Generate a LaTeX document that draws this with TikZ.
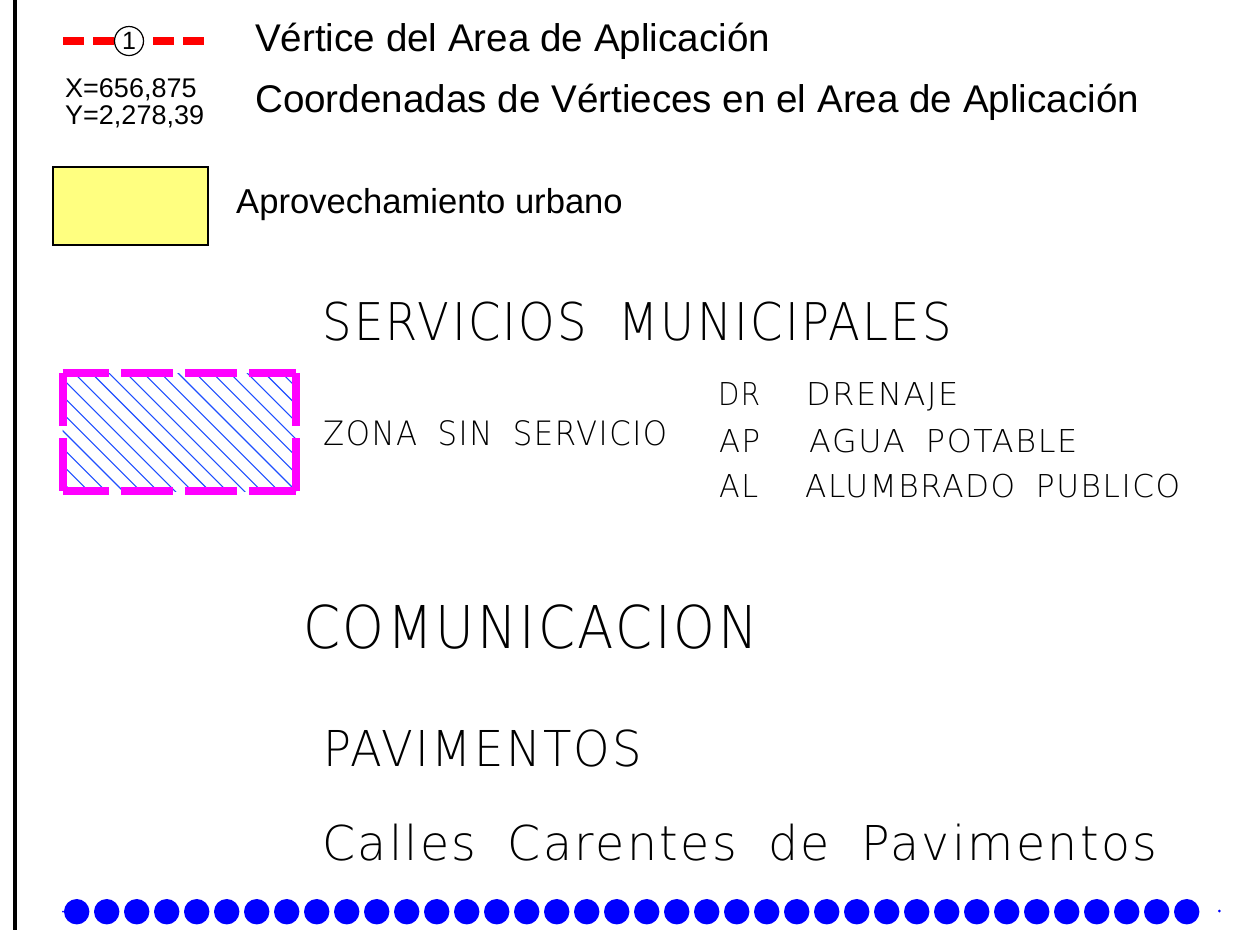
\documentclass[tikz,border=0pt]{standalone}
\usepackage{fontspec}
\usepackage{graphicx}
\setmainfont{Liberation Sans}
\newfontfamily\cad[LetterSpace=5,WordSpace=1.8]{DejaVu Sans ExtraLight}
\newcommand\fitto[2]{\resizebox{#1pt}{\height}{#2}}
\definecolor{cadred}{HTML}{FF0000}
\definecolor{cadmag}{HTML}{FF00FF}
\definecolor{cadblue}{HTML}{0000FF}
\definecolor{hatchblue}{HTML}{1F4FFF}
\definecolor{lightyellow}{HTML}{FFFF80}
\tikzset{
  arial/.style={inner sep=0pt, anchor=base west, font=\fontsize{#1}{#1}\selectfont},
  cadtext/.style={inner sep=0pt, anchor=base west, font=\cad\fontsize{#1}{#1}\selectfont},
  magseg/.style={draw=cadmag, line width=8pt, line cap=butt},
  dot/.style={circle, fill=cadblue, draw=none, minimum size=25.4pt, inner sep=0pt}
}
\begin{document}
\begin{tikzpicture}[x=1pt,y=-1pt]
\useasboundingbox (0,0) rectangle (1238,930);
\fill[white] (0,0) rectangle (1238,930);
% left border line
\coordinate (bt) at (15,0);
\coordinate (bb) at (15,930);
\draw[line width=3.5pt] (bt) -- (bb);

% vertex legend
\coordinate (rl) at (63,41);
\coordinate (rr) at (205,41);
\draw[cadred, line width=8pt, dash pattern=on 21pt off 9pt] (rl) -- (rr);
\node[circle, draw=black, fill=white, line width=1.2pt, minimum size=29pt, inner sep=0pt,
      font=\fontsize{25}{25}\selectfont] (v1) at (129,41) {1};
\node[arial=38.6] (t1) at (255,51) {Vértice del Area de Aplicación};
\node[arial=27] (cx) at (65,97) {X=656,875};
\node[arial=27] (cy) at (65,124) {Y=2,278,39};
\node[arial=38.6] (t2) at (255,112) {Coordenadas de Vértieces en el Area de Aplicación};

% yellow legend
\node[draw=black, line width=1.5pt, fill=lightyellow, minimum width=155pt, minimum height=78pt,
      inner sep=0pt, anchor=north west] (yb) at (52,166) {};
\node[arial=34.6] (t3) at (236,213) {Aprovechamiento urbano};

% services
\node[cadtext=52] (sm) at (322,340) {\fitto{630}{SERVICIOS MUNICIPALES}};

% hatched box
\begin{scope}
  \clip (62.5,373) rectangle (296,491);
  \foreach \k in {-3,...,17} {
    \pgfmathsetmacro\c{-368+17.3*\k}
    \draw[hatchblue, line width=1.1pt] (\c+300,300) -- (\c+600,600);
  }
\end{scope}
\draw[magseg] (62.5,373) -- (109,373);
\draw[magseg] (121,373) -- (173,373);
\draw[magseg] (185,373) -- (237,373);
\draw[magseg] (249,373) -- (296,373);
\draw[magseg] (62.5,491) -- (109,491);
\draw[magseg] (121,491) -- (173,491);
\draw[magseg] (185,491) -- (237,491);
\draw[magseg] (249,491) -- (296,491);
\draw[magseg] (62.5,373) -- (62.5,426);
\draw[magseg] (62.5,438) -- (62.5,491);
\draw[magseg] (296,373) -- (296,426);
\draw[magseg] (296,438) -- (296,491);

\node[cadtext=33.6] (zs) at (323,445) {\fitto{344}{ZONA SIN SERVICIO}};
\node[cadtext=31.5] (dr) at (718,405) {\fitto{42}{DR}};
\node[cadtext=31.5] (ap) at (719,452) {\fitto{41}{AP}};
\node[cadtext=31.5] (al) at (719,497) {\fitto{39}{AL}};
\node[cadtext=31.5] (drn) at (806,405) {\fitto{152}{DRENAJE}};
\node[cadtext=31.5] (apn) at (809,452) {\fitto{268}{AGUA POTABLE}};
\node[cadtext=31.5] (aln) at (805,497) {\fitto{375}{ALUMBRADO PUBLICO}};

% communication
\node[cadtext=59] (com) at (303,648) {\fitto{455}{COMUNICACION}};
\node[cadtext=49.4] (pav) at (323,766) {\fitto{319}{PAVIMENTOS}};
\node[cadtext=48] (cal) at (322,860) {\fitto{835}{Calles Carentes de Pavimentos}};

% dotted line of blue dots
\foreach \i in {0,...,37} {
  \node[dot] (d\i) at (76.7+30*\i,911.7) {};
}
\fill[cadblue] (63,911.7) circle (1pt);
\node[circle, fill=cadblue, minimum size=3pt, inner sep=0pt] (sd) at (1219.3,911) {};
\end{tikzpicture}
\end{document}
